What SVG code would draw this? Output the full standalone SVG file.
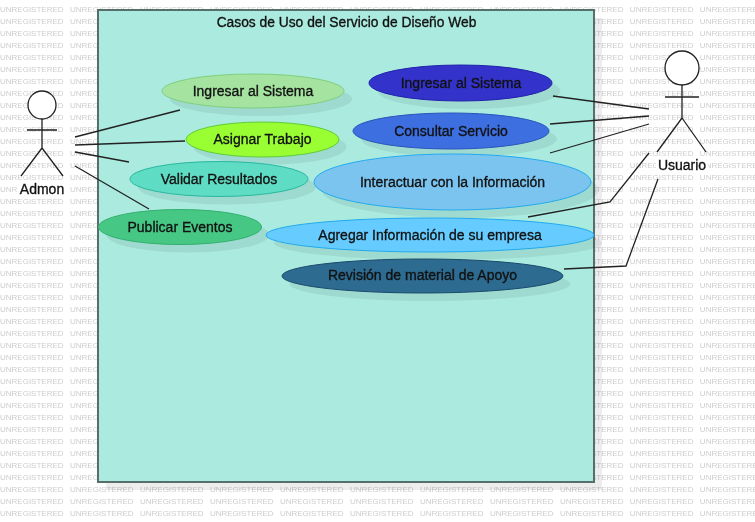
<svg xmlns="http://www.w3.org/2000/svg" width="755" height="522" viewBox="0 0 755 522">
<style>
.wm{font:8px "Liberation Sans",Arial,sans-serif;fill:#cdcdcd;word-spacing:4.2px}
#watermark{filter:grayscale(1)}
.t{font:14px "Liberation Sans",Arial,sans-serif;fill:#111;stroke:#111;stroke-width:.33px;text-anchor:middle;filter:grayscale(1)}
.sh{fill:#000;fill-opacity:.07}
.ln{fill:none;stroke:#222;stroke-width:1.3}
.act{fill:none;stroke:#222;stroke-width:1.3}
</style>
<rect width="755" height="522" fill="#fff"/>
<g id="watermark">
<text class="wm" y="12">UNREGISTERED UNREGISTERED UNREGISTERED UNREGISTERED UNREGISTERED UNREGISTERED UNREGISTERED UNREGISTERED UNREGISTERED UNREGISTERED UNREGISTERED</text>
<text class="wm" y="24">UNREGISTERED UNREGISTERED UNREGISTERED UNREGISTERED UNREGISTERED UNREGISTERED UNREGISTERED UNREGISTERED UNREGISTERED UNREGISTERED UNREGISTERED</text>
<text class="wm" y="36">UNREGISTERED UNREGISTERED UNREGISTERED UNREGISTERED UNREGISTERED UNREGISTERED UNREGISTERED UNREGISTERED UNREGISTERED UNREGISTERED UNREGISTERED</text>
<text class="wm" y="48">UNREGISTERED UNREGISTERED UNREGISTERED UNREGISTERED UNREGISTERED UNREGISTERED UNREGISTERED UNREGISTERED UNREGISTERED UNREGISTERED UNREGISTERED</text>
<text class="wm" y="60">UNREGISTERED UNREGISTERED UNREGISTERED UNREGISTERED UNREGISTERED UNREGISTERED UNREGISTERED UNREGISTERED UNREGISTERED UNREGISTERED UNREGISTERED</text>
<text class="wm" y="72">UNREGISTERED UNREGISTERED UNREGISTERED UNREGISTERED UNREGISTERED UNREGISTERED UNREGISTERED UNREGISTERED UNREGISTERED UNREGISTERED UNREGISTERED</text>
<text class="wm" y="84">UNREGISTERED UNREGISTERED UNREGISTERED UNREGISTERED UNREGISTERED UNREGISTERED UNREGISTERED UNREGISTERED UNREGISTERED UNREGISTERED UNREGISTERED</text>
<text class="wm" y="96">UNREGISTERED UNREGISTERED UNREGISTERED UNREGISTERED UNREGISTERED UNREGISTERED UNREGISTERED UNREGISTERED UNREGISTERED UNREGISTERED UNREGISTERED</text>
<text class="wm" y="108">UNREGISTERED UNREGISTERED UNREGISTERED UNREGISTERED UNREGISTERED UNREGISTERED UNREGISTERED UNREGISTERED UNREGISTERED UNREGISTERED UNREGISTERED</text>
<text class="wm" y="120">UNREGISTERED UNREGISTERED UNREGISTERED UNREGISTERED UNREGISTERED UNREGISTERED UNREGISTERED UNREGISTERED UNREGISTERED UNREGISTERED UNREGISTERED</text>
<text class="wm" y="132">UNREGISTERED UNREGISTERED UNREGISTERED UNREGISTERED UNREGISTERED UNREGISTERED UNREGISTERED UNREGISTERED UNREGISTERED UNREGISTERED UNREGISTERED</text>
<text class="wm" y="144">UNREGISTERED UNREGISTERED UNREGISTERED UNREGISTERED UNREGISTERED UNREGISTERED UNREGISTERED UNREGISTERED UNREGISTERED UNREGISTERED UNREGISTERED</text>
<text class="wm" y="156">UNREGISTERED UNREGISTERED UNREGISTERED UNREGISTERED UNREGISTERED UNREGISTERED UNREGISTERED UNREGISTERED UNREGISTERED UNREGISTERED UNREGISTERED</text>
<text class="wm" y="168">UNREGISTERED UNREGISTERED UNREGISTERED UNREGISTERED UNREGISTERED UNREGISTERED UNREGISTERED UNREGISTERED UNREGISTERED UNREGISTERED UNREGISTERED</text>
<text class="wm" y="180">UNREGISTERED UNREGISTERED UNREGISTERED UNREGISTERED UNREGISTERED UNREGISTERED UNREGISTERED UNREGISTERED UNREGISTERED UNREGISTERED UNREGISTERED</text>
<text class="wm" y="192">UNREGISTERED UNREGISTERED UNREGISTERED UNREGISTERED UNREGISTERED UNREGISTERED UNREGISTERED UNREGISTERED UNREGISTERED UNREGISTERED UNREGISTERED</text>
<text class="wm" y="204">UNREGISTERED UNREGISTERED UNREGISTERED UNREGISTERED UNREGISTERED UNREGISTERED UNREGISTERED UNREGISTERED UNREGISTERED UNREGISTERED UNREGISTERED</text>
<text class="wm" y="216">UNREGISTERED UNREGISTERED UNREGISTERED UNREGISTERED UNREGISTERED UNREGISTERED UNREGISTERED UNREGISTERED UNREGISTERED UNREGISTERED UNREGISTERED</text>
<text class="wm" y="228">UNREGISTERED UNREGISTERED UNREGISTERED UNREGISTERED UNREGISTERED UNREGISTERED UNREGISTERED UNREGISTERED UNREGISTERED UNREGISTERED UNREGISTERED</text>
<text class="wm" y="240">UNREGISTERED UNREGISTERED UNREGISTERED UNREGISTERED UNREGISTERED UNREGISTERED UNREGISTERED UNREGISTERED UNREGISTERED UNREGISTERED UNREGISTERED</text>
<text class="wm" y="252">UNREGISTERED UNREGISTERED UNREGISTERED UNREGISTERED UNREGISTERED UNREGISTERED UNREGISTERED UNREGISTERED UNREGISTERED UNREGISTERED UNREGISTERED</text>
<text class="wm" y="264">UNREGISTERED UNREGISTERED UNREGISTERED UNREGISTERED UNREGISTERED UNREGISTERED UNREGISTERED UNREGISTERED UNREGISTERED UNREGISTERED UNREGISTERED</text>
<text class="wm" y="276">UNREGISTERED UNREGISTERED UNREGISTERED UNREGISTERED UNREGISTERED UNREGISTERED UNREGISTERED UNREGISTERED UNREGISTERED UNREGISTERED UNREGISTERED</text>
<text class="wm" y="288">UNREGISTERED UNREGISTERED UNREGISTERED UNREGISTERED UNREGISTERED UNREGISTERED UNREGISTERED UNREGISTERED UNREGISTERED UNREGISTERED UNREGISTERED</text>
<text class="wm" y="300">UNREGISTERED UNREGISTERED UNREGISTERED UNREGISTERED UNREGISTERED UNREGISTERED UNREGISTERED UNREGISTERED UNREGISTERED UNREGISTERED UNREGISTERED</text>
<text class="wm" y="312">UNREGISTERED UNREGISTERED UNREGISTERED UNREGISTERED UNREGISTERED UNREGISTERED UNREGISTERED UNREGISTERED UNREGISTERED UNREGISTERED UNREGISTERED</text>
<text class="wm" y="324">UNREGISTERED UNREGISTERED UNREGISTERED UNREGISTERED UNREGISTERED UNREGISTERED UNREGISTERED UNREGISTERED UNREGISTERED UNREGISTERED UNREGISTERED</text>
<text class="wm" y="336">UNREGISTERED UNREGISTERED UNREGISTERED UNREGISTERED UNREGISTERED UNREGISTERED UNREGISTERED UNREGISTERED UNREGISTERED UNREGISTERED UNREGISTERED</text>
<text class="wm" y="348">UNREGISTERED UNREGISTERED UNREGISTERED UNREGISTERED UNREGISTERED UNREGISTERED UNREGISTERED UNREGISTERED UNREGISTERED UNREGISTERED UNREGISTERED</text>
<text class="wm" y="360">UNREGISTERED UNREGISTERED UNREGISTERED UNREGISTERED UNREGISTERED UNREGISTERED UNREGISTERED UNREGISTERED UNREGISTERED UNREGISTERED UNREGISTERED</text>
<text class="wm" y="372">UNREGISTERED UNREGISTERED UNREGISTERED UNREGISTERED UNREGISTERED UNREGISTERED UNREGISTERED UNREGISTERED UNREGISTERED UNREGISTERED UNREGISTERED</text>
<text class="wm" y="384">UNREGISTERED UNREGISTERED UNREGISTERED UNREGISTERED UNREGISTERED UNREGISTERED UNREGISTERED UNREGISTERED UNREGISTERED UNREGISTERED UNREGISTERED</text>
<text class="wm" y="396">UNREGISTERED UNREGISTERED UNREGISTERED UNREGISTERED UNREGISTERED UNREGISTERED UNREGISTERED UNREGISTERED UNREGISTERED UNREGISTERED UNREGISTERED</text>
<text class="wm" y="408">UNREGISTERED UNREGISTERED UNREGISTERED UNREGISTERED UNREGISTERED UNREGISTERED UNREGISTERED UNREGISTERED UNREGISTERED UNREGISTERED UNREGISTERED</text>
<text class="wm" y="420">UNREGISTERED UNREGISTERED UNREGISTERED UNREGISTERED UNREGISTERED UNREGISTERED UNREGISTERED UNREGISTERED UNREGISTERED UNREGISTERED UNREGISTERED</text>
<text class="wm" y="432">UNREGISTERED UNREGISTERED UNREGISTERED UNREGISTERED UNREGISTERED UNREGISTERED UNREGISTERED UNREGISTERED UNREGISTERED UNREGISTERED UNREGISTERED</text>
<text class="wm" y="444">UNREGISTERED UNREGISTERED UNREGISTERED UNREGISTERED UNREGISTERED UNREGISTERED UNREGISTERED UNREGISTERED UNREGISTERED UNREGISTERED UNREGISTERED</text>
<text class="wm" y="456">UNREGISTERED UNREGISTERED UNREGISTERED UNREGISTERED UNREGISTERED UNREGISTERED UNREGISTERED UNREGISTERED UNREGISTERED UNREGISTERED UNREGISTERED</text>
<text class="wm" y="468">UNREGISTERED UNREGISTERED UNREGISTERED UNREGISTERED UNREGISTERED UNREGISTERED UNREGISTERED UNREGISTERED UNREGISTERED UNREGISTERED UNREGISTERED</text>
<text class="wm" y="480">UNREGISTERED UNREGISTERED UNREGISTERED UNREGISTERED UNREGISTERED UNREGISTERED UNREGISTERED UNREGISTERED UNREGISTERED UNREGISTERED UNREGISTERED</text>
<text class="wm" y="492">UNREGISTERED UNREGISTERED UNREGISTERED UNREGISTERED UNREGISTERED UNREGISTERED UNREGISTERED UNREGISTERED UNREGISTERED UNREGISTERED UNREGISTERED</text>
<text class="wm" y="504">UNREGISTERED UNREGISTERED UNREGISTERED UNREGISTERED UNREGISTERED UNREGISTERED UNREGISTERED UNREGISTERED UNREGISTERED UNREGISTERED UNREGISTERED</text>
<text class="wm" y="516">UNREGISTERED UNREGISTERED UNREGISTERED UNREGISTERED UNREGISTERED UNREGISTERED UNREGISTERED UNREGISTERED UNREGISTERED UNREGISTERED UNREGISTERED</text>
</g>
<g id="boundary">
<rect class="sh" x="106" y="18" width="496" height="472"/>
<rect x="98" y="10" width="496" height="472" fill="#abebdf" stroke="#566f6b" stroke-width="2"/>
<text class="t" x="346.500" y="27" style="font-size:13.800px">Casos de Uso del Servicio de Diseño Web</text>
</g>
<g id="connectors">
<path class="ln" d="M75 137L180 110"/>
<path class="ln" d="M75 145L185 141"/>
<path class="ln" d="M75 152L129 162"/>
<path class="ln" d="M75 166L149 209"/>
<path class="ln" d="M553 96L649 109"/>
<path class="ln" d="M550 124L649 116"/>
<path class="ln" d="M550 153L649 124"/>
<path class="ln" d="M528 217L610 202L649 153"/>
<path class="ln" d="M564 269L626 266L658 179"/>
</g>
<g id="admon">
<circle cx="42" cy="105" r="14" fill="#fff" stroke="#222" stroke-width="1.300"/>
<path class="act" d="M42 119V148M27 130H57M42 148L21 176M42 148L63 176"/>
<rect x="18" y="181" width="48" height="16" fill="#fff"/>
<text class="t" x="42" y="194">Admon</text>
</g>
<g id="usuario">
<circle cx="682" cy="68" r="17" fill="#fff" stroke="#222" stroke-width="1.300"/>
<path class="act" d="M682 85V118M665 97H699M682 118L657 152M682 118L706 152"/>
<rect x="656" y="158" width="52" height="16" fill="#fff"/>
<text class="t" x="682" y="170">Usuario</text>
</g>
<g id="uc-ingresar-admon">
<ellipse class="sh" cx="261" cy="99" rx="91" ry="17"/>
<ellipse cx="253" cy="91" rx="91" ry="17" fill="#a5e3a0" stroke="#7fcf7f"/>
<text class="t" x="253" y="96">Ingresar al Sistema</text>
</g>
<g id="uc-asignar">
<ellipse class="sh" cx="270" cy="147" rx="76.500" ry="17.500"/>
<ellipse cx="262.500" cy="139.500" rx="76.500" ry="17.500" fill="#99ff33" stroke="#5fcc3a"/>
<text class="t" x="262.500" y="144">Asignar Trabajo</text>
</g>
<g id="uc-validar">
<ellipse class="sh" cx="227" cy="187" rx="89" ry="17.500"/>
<ellipse cx="219" cy="179" rx="89" ry="17.500" fill="#5fdcc4" stroke="#2ab8a0"/>
<text class="t" x="219" y="184">Validar Resultados</text>
</g>
<g id="uc-publicar">
<ellipse class="sh" cx="188" cy="235" rx="81.500" ry="17.500"/>
<ellipse cx="180" cy="227" rx="81.500" ry="17.500" fill="#47c784" stroke="#33b070"/>
<text class="t" x="180" y="232">Publicar Eventos</text>
</g>
<g id="uc-ingresar-usuario">
<ellipse class="sh" cx="469" cy="91" rx="91.500" ry="18"/>
<ellipse cx="460.500" cy="83" rx="91.500" ry="18" fill="#3333cc" stroke="#2222aa"/>
<text class="t" x="461" y="88">Ingresar al Sistema</text>
</g>
<g id="uc-consultar">
<ellipse class="sh" cx="459" cy="139" rx="98" ry="18"/>
<ellipse cx="451" cy="131" rx="98" ry="18" fill="#3d6fe0" stroke="#2a55bb"/>
<text class="t" x="451" y="136">Consultar Servicio</text>
</g>
<g id="uc-interactuar">
<ellipse class="sh" cx="460" cy="190" rx="138.500" ry="28"/>
<ellipse cx="452.500" cy="182" rx="138.500" ry="28" fill="#7cc4f0" stroke="#22aaee"/>
<text class="t" x="452.500" y="187">Interactuar con la Información</text>
</g>
<g id="uc-agregar">
<ellipse class="sh" cx="438" cy="243" rx="164" ry="17"/>
<ellipse cx="430" cy="235" rx="164" ry="17" fill="#66ccff" stroke="#22aaee"/>
<text class="t" x="430" y="240">Agregar Información de su empresa</text>
</g>
<g id="uc-revision">
<ellipse class="sh" cx="430" cy="284" rx="140.500" ry="17"/>
<ellipse cx="422.500" cy="276" rx="140.500" ry="17" fill="#2d6b90" stroke="#1b4a6b"/>
<text class="t" x="422.500" y="280">Revisión de material de Apoyo</text>
</g>
</svg>
